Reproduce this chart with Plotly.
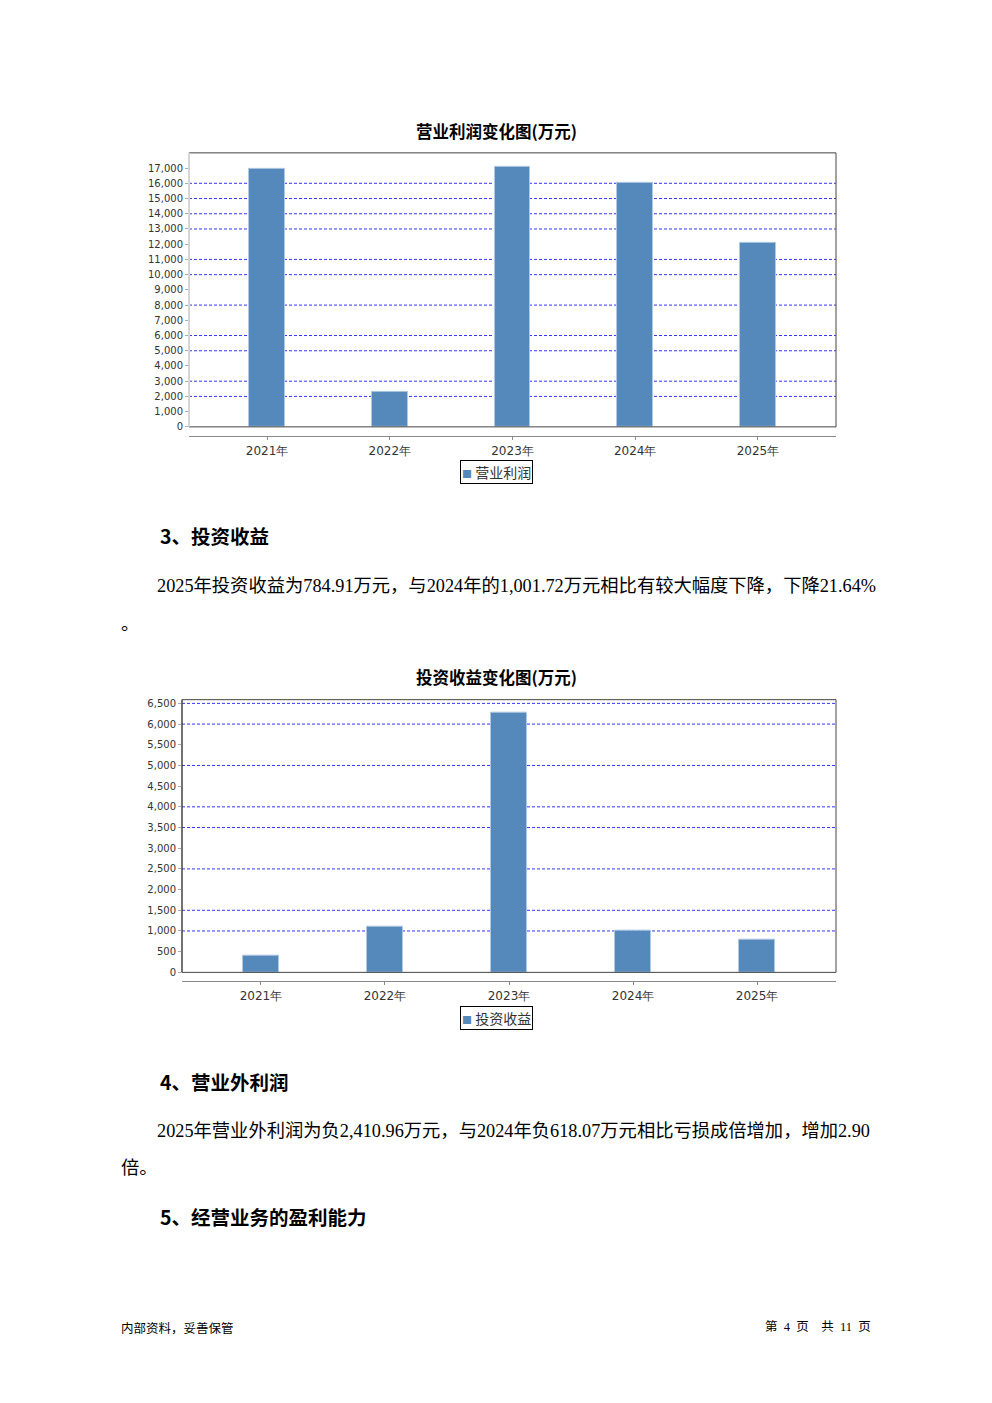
import plotly.graph_objects as go

# ---------------- data ----------------
years = ["2021年", "2022年", "2023年", "2024年", "2025年"]
op_profit = [16930, 2290, 17060, 16010, 12090]          # 营业利润(万元)
inv_income = [410, 1106, 6274, 1001.72, 784.91]          # 投资收益(万元)
op_ticks = list(range(0, 17001, 1000))
inv_ticks = list(range(0, 6501, 500))
op_grid = [16000, 15000, 14000, 13000, 11000, 10000, 8000, 6000, 5000, 3000, 2000]
inv_grid = [6500, 6000, 5000, 4000, 3500, 2500, 1500, 1000]

# page body has an 8px margin; keep the figure within the window
OFF = 8
W, H = 992 - 2 * OFF, 1375
def px(x): return (x - OFF) / W
def py(y): return 1 - (y - OFF) / H

BAR = "#5588BB"
GRID = "#3535ff"
TICKFONT = dict(family="DejaVu Sans", size=10, color="#333333")
XFONT = dict(family="DejaVu Sans", size=12, color="#333333")
CJK_BOLD = "Noto Sans CJK SC"
BODY = "Liberation Serif, Noto Sans CJK SC"

fig = go.Figure()
fig.add_trace(go.Bar(x=list(range(len(years))), y=op_profit, width=0.29,
                     marker=dict(color=BAR, line=dict(color="#b0c8e0", width=1)),
                     xaxis="x", yaxis="y", showlegend=False, name="营业利润"))
fig.add_trace(go.Bar(x=list(range(len(years))), y=inv_income, width=0.29,
                     marker=dict(color=BAR, line=dict(color="#b0c8e0", width=1)),
                     xaxis="x2", yaxis="y2", showlegend=False, name="投资收益"))

xr = [-0.636, len(years) - 1 + 0.636]
common_x = dict(range=xr, tickmode="array", tickvals=list(range(len(years))), ticktext=years,
                showgrid=False, zeroline=False, showline=True, linecolor="#8a8a8a", linewidth=1,
                ticks="outside", ticklen=3, tickcolor="#8a8a8a", tickfont=XFONT, fixedrange=True)
common_y = dict(showgrid=False, zeroline=False, showline=False, ticks="outside", ticklen=3,
                tickcolor="#aaaaaa", tickfont=TICKFONT, tickformat=",", tickmode="array", fixedrange=True)

fig.update_layout(
    width=W, height=H, margin=dict(l=0, r=0, t=0, b=0),
    paper_bgcolor="white", plot_bgcolor="white", showlegend=False, bargap=0,
    xaxis=dict(domain=[px(189), px(836)], anchor="free", position=py(436.7), **common_x),
    yaxis=dict(domain=[py(427.3), py(151.7)], anchor="x", range=[0, 18000], tickvals=op_ticks, **common_y),
    xaxis2=dict(domain=[px(182), px(836)], anchor="free", position=py(985), **common_x),
    yaxis2=dict(domain=[py(976), py(701.7)], anchor="x2", range=[0, 6590], tickvals=inv_ticks, **common_y),
)

shapes = []
for v in op_grid:
    shapes.append(dict(type="line", xref="x domain", yref="y", x0=0, x1=1, y0=v, y1=v,
                       line=dict(color=GRID, width=1, dash="3px,2px"), layer="below"))
for v in inv_grid:
    shapes.append(dict(type="line", xref="x2 domain", yref="y2", x0=0, x1=1, y0=v, y1=v,
                       line=dict(color=GRID, width=1, dash="3px,2px"), layer="below"))
# frames
for xa, ya, leftc, leftw in (("x", "y", "#d6d6d6", 2), ("x2", "y2", "#444444", 1)):
    shapes.append(dict(type="rect", xref=f"{xa} domain", yref=f"{ya} domain", x0=0, x1=1, y0=0, y1=1,
                       line=dict(color="#444444", width=1), layer="above"))
    shapes.append(dict(type="line", xref=f"{xa} domain", yref=f"{ya} domain", x0=0, x1=0, y0=0, y1=1,
                       line=dict(color=leftc, width=leftw), layer="above"))
fig.update_layout(shapes=shapes)

ann = []
def text(x, y, s, size, family, xanchor="left", bold=False, color="black", **kw):
    if bold:
        s = f"<b>{s}</b>"
    ann.append(dict(x=px(x), y=py(y), xref="paper", yref="paper", text=s, showarrow=False,
                    xanchor=xanchor, yanchor="middle", font=dict(size=size, family=family, color=color), **kw))

# chart titles
text(496, 130, "营业利润变化图(万元)", 16.5, CJK_BOLD, xanchor="center", bold=True)
text(496, 679, "投资收益变化图(万元)", 16.5, CJK_BOLD, xanchor="center", bold=True)
# legends
for y, name in ((473, "营业利润"), (1022, "投资收益")):
    text(496, y, f"<span style='font-size:10px;color:{BAR}'>■</span> {name}", 14, CJK_BOLD,
         xanchor="center", color="#333333", bordercolor="#000000", borderwidth=1, borderpad=1)

# body text
text(158, 537, "3、投资收益", 19.5, CJK_BOLD, bold=True)
text(155, 587, "2025年投资收益为784.91万元，与2024年的1,001.72万元相比有较大幅度下降，下降21.64%", 18.3, BODY)
text(119, 626, "。", 18.3, BODY)
text(158, 1086, "4、营业外利润", 19.5, CJK_BOLD, bold=True)
text(155, 1136, "2025年营业外利润为负2,410.96万元，与2024年负618.07万元相比亏损成倍增加，增加2.90", 18.3, BODY)
text(119, 1173, "倍。", 18.3, BODY)
text(158, 1222, "5、经营业务的盈利能力", 19.5, CJK_BOLD, bold=True)
# footer
text(119, 1333, "内部资料，妥善保管", 12.5, CJK_BOLD)
text(873, 1333, "第  4  页    共  11  页", 12.5, BODY, xanchor="right")

fig.update_layout(annotations=ann)
fig.write_html("out.html")
